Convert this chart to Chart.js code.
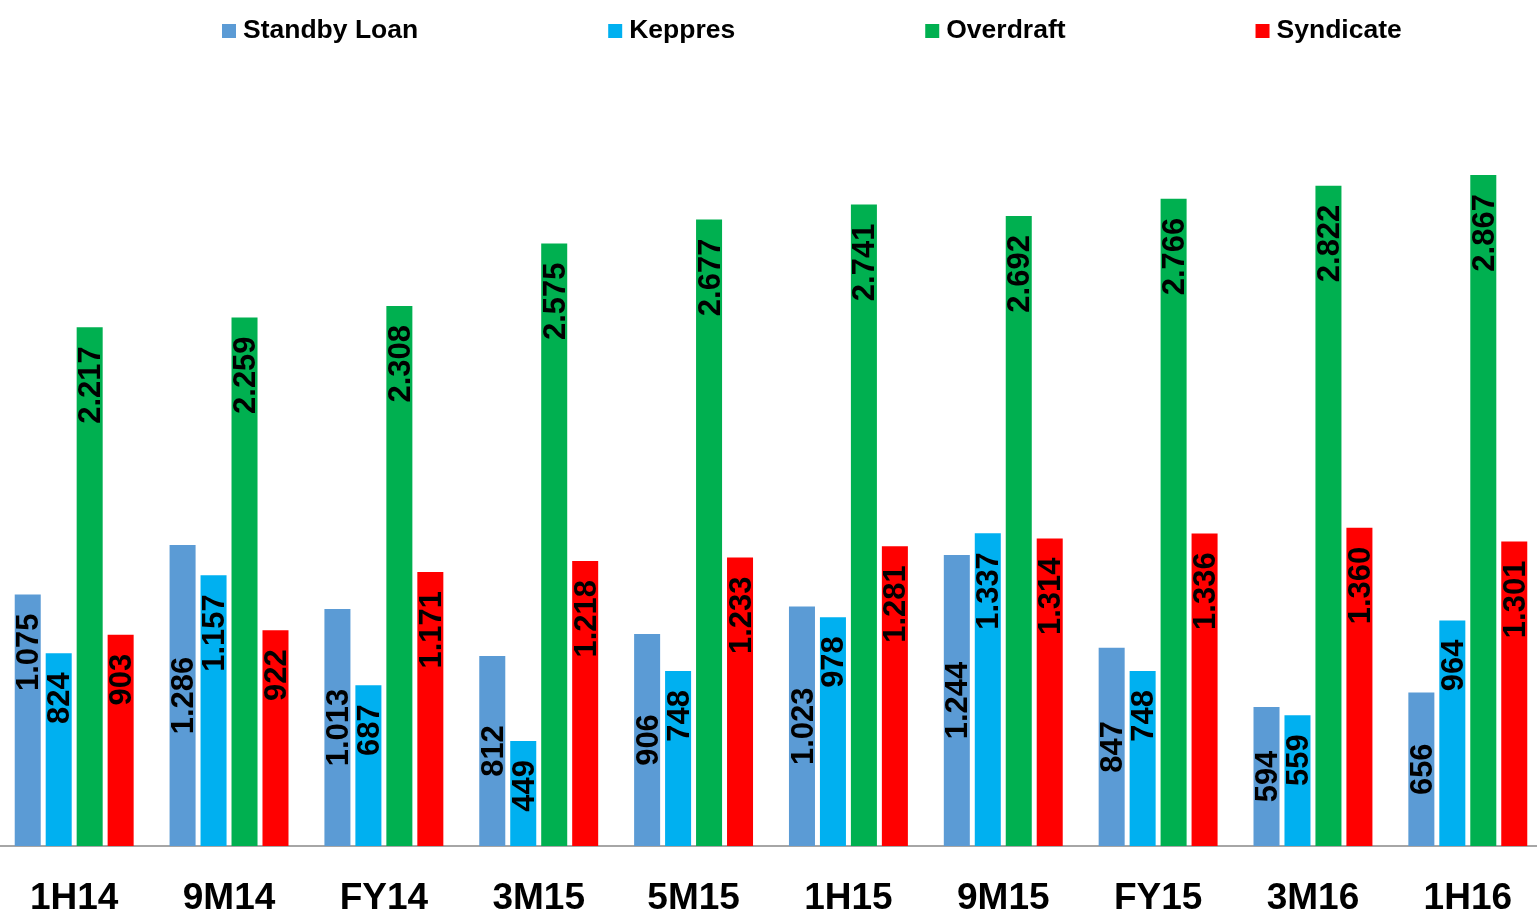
<!DOCTYPE html>
<html>
<head>
<meta charset="utf-8">
<script src="https://cdn.jsdelivr.net/npm/chart.js@4.4.1/dist/chart.umd.min.js"></script>
<style>
  html, body { margin: 0; padding: 0; background: #fff; overflow: hidden; }
  #wrap { position: absolute; left: -4px; top: 0; width: 1550px; height: 916px; }
</style>
</head>
<body>
<div id="wrap"><canvas id="loans"></canvas></div>
<script>
const periods = ['1H14', '9M14', 'FY14', '3M15', '5M15', '1H15', '9M15', 'FY15', '3M16', '1H16'];
const standbyLoan = [1075, 1286, 1013, 812, 906, 1023, 1244, 847, 594, 656];
const keppres = [824, 1157, 687, 449, 748, 978, 1337, 748, 559, 964];
const overdraft = [2217, 2259, 2308, 2575, 2677, 2741, 2692, 2766, 2822, 2867];
const syndicate = [903, 922, 1171, 1218, 1233, 1281, 1314, 1336, 1360, 1301];

function fmt(n)
{
	return String(n).replace(/\B(?=(\d{3})+(?!\d))/g, '.');
}

// value labels, rotated, inside the bars
const barLabels = {
	id: 'barLabels',
	afterDatasetsDraw(chart) {
		const ctx = chart.ctx;
		ctx.save();
		ctx.font = 'bold 31px "Liberation Sans", Arial, sans-serif';
		ctx.fillStyle = '#000';
		ctx.textBaseline = 'middle';
		chart.data.datasets.forEach((ds, di) => {
			const meta = chart.getDatasetMeta(di);
			meta.data.forEach((bar, i) => {
				const anchor = typeof ds.labelAnchor === 'function' ? ds.labelAnchor(i) : ds.labelAnchor;
				ctx.save();
				if (anchor === 'center') {
					ctx.translate(bar.x + 2, (bar.y + bar.base) / 2);
					ctx.textAlign = 'center';
				} else {
					ctx.translate(bar.x + 2, bar.y + 19);
					ctx.textAlign = 'right';
				}
				ctx.rotate(-Math.PI / 2);
				ctx.fillText(fmt(ds.data[i]), 0, 0);
				ctx.restore();
			});
		});
		ctx.restore();
	}
};

// legend spread across the top like the original
const topLegend = {
	id: 'topLegend',
	afterDraw(chart) {
		const ctx = chart.ctx;
		ctx.save();
		ctx.font = 'bold 26.5px "Liberation Sans", Arial, sans-serif';
		ctx.textBaseline = 'middle';
		ctx.textAlign = 'left';
		let x = 226;
		const y = 31;
		chart.data.datasets.forEach(ds => {
			ctx.fillStyle = ds.backgroundColor;
			ctx.fillRect(x, y - 7, 14, 14);
			ctx.fillStyle = '#000';
			ctx.fillText(ds.label, x + 21, y);
			x += 21 + ctx.measureText(ds.label).width + 190;
		});
		ctx.restore();
	}
};

const chrt = document.getElementById('loans').getContext('2d');
const loans = new Chart(chrt, {
	type: 'bar',
	data: {
		labels: periods,
		datasets: [{
			label: 'Standby Loan',
			data: standbyLoan,
			backgroundColor: '#5B9BD5',
			labelAnchor: (i) => i === 0 ? 'end' : 'center',
		}, {
			label: 'Keppres',
			data: keppres,
			backgroundColor: '#00B0F0',
			labelAnchor: 'end',
		}, {
			label: 'Overdraft',
			data: overdraft,
			backgroundColor: '#00B050',
			labelAnchor: 'end',
		}, {
			label: 'Syndicate',
			data: syndicate,
			backgroundColor: '#FF0000',
			labelAnchor: 'end',
		}],
	},
	options: {
		responsive: true,
		maintainAspectRatio: false,
		animation: false,
		categoryPercentage: 0.8,
		barPercentage: 0.84,
		layout: {
			padding: { top: 144, bottom: 0, left: 0, right: 0 }
		},
		plugins: {
			legend: { display: false },
			tooltip: { enabled: false },
		},
		scales: {
			y: {
				display: false,
				min: 0,
				max: 3000,
			},
			x: {
				afterFit: (scale) => { scale.height = 70; },
				grid: {
					display: false,
					drawTicks: false,
				},
				border: {
					display: true,
					color: '#A6A6A6',
					width: 2,
				},
				ticks: {
					color: '#000',
					padding: 34,
					font: { family: '"Liberation Sans", Arial, sans-serif', size: 37, weight: 'bold', lineHeight: 1 },
				}
			}
		}
	},
	plugins: [barLabels, topLegend]
});
</script>
</body>
</html>
